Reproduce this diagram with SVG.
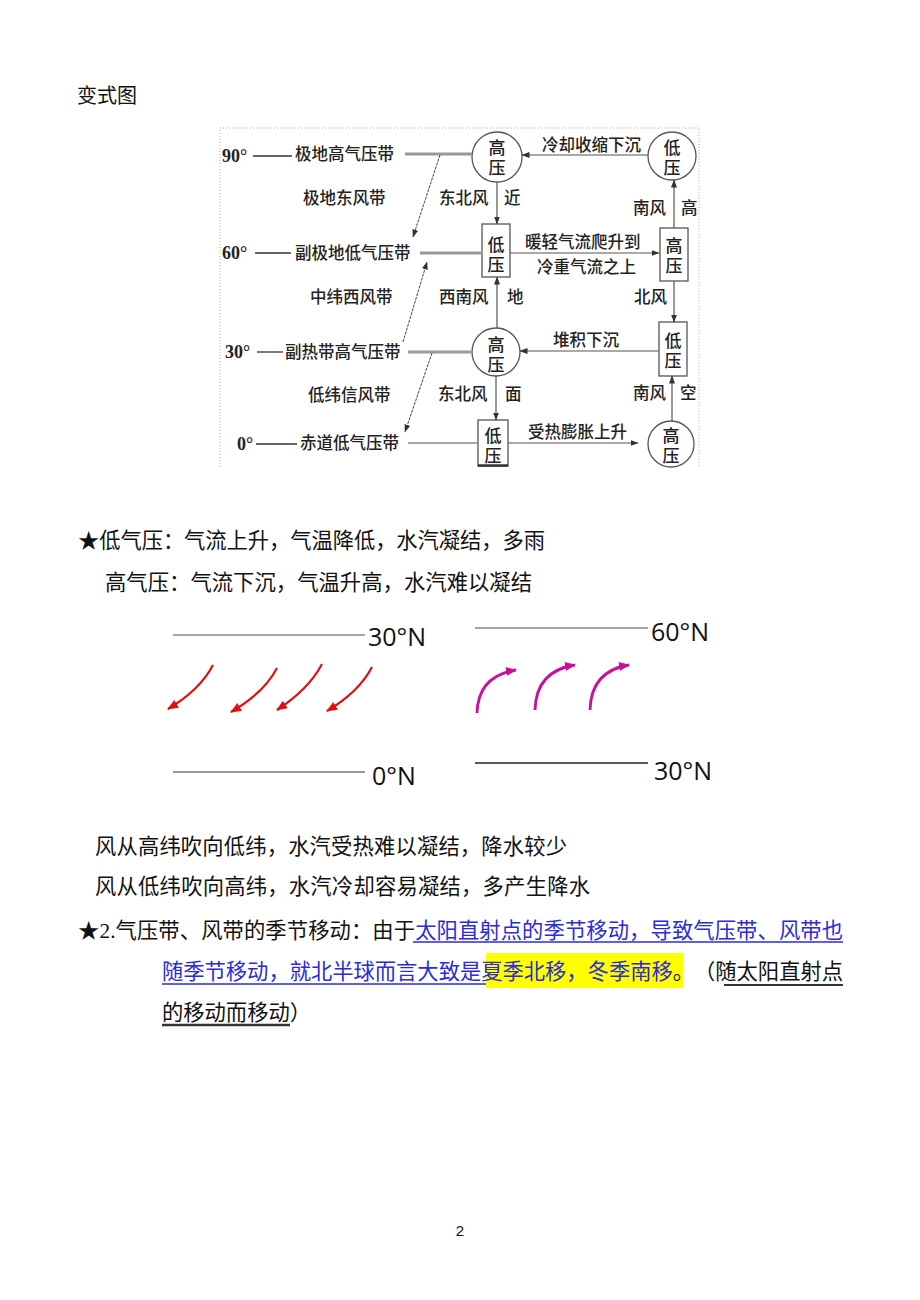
<svg xmlns="http://www.w3.org/2000/svg" width="920" height="1300" viewBox="0 0 920 1300">
<defs>
<marker id="ah" markerWidth="8" markerHeight="8" refX="7.5" refY="4" orient="auto" markerUnits="userSpaceOnUse"><path d="M0,1 L8,4 L0,7 Z" fill="#333"/></marker>
<marker id="ahr" markerWidth="12" markerHeight="12" refX="10" refY="6" orient="auto" markerUnits="userSpaceOnUse"><path d="M0,1.5 L11,6 L0,10.5 Z" fill="#e01010"/></marker>
<marker id="ahm" markerWidth="12" markerHeight="12" refX="10" refY="6" orient="auto" markerUnits="userSpaceOnUse"><path d="M0,1.5 L11,6 L0,10.5 Z" fill="#c8109a"/></marker>
</defs>
<style>
text{text-spacing-trim:space-all}
.cjk{font-family:"Noto Sans CJK SC","Noto Sans CJK TC",sans-serif}
.body{font-size:21.3px;fill:#111}
.d{font-size:16.5px;fill:#222;font-weight:500}
.nd{font-size:17px;fill:#222;font-weight:500;text-anchor:middle;writing-mode:vertical-rl;letter-spacing:3px}
.deg{font-family:"Liberation Serif",serif;font-weight:bold;font-size:18px;fill:#222}
.node{fill:#fff;stroke:#555;stroke-width:1.3}
.conn{stroke:#555;stroke-width:1.2;fill:none}
.diag{stroke:#444;stroke-width:1;fill:none;stroke-dasharray:3,1}
.belt{stroke:#999;stroke-width:3}
.dash{stroke:#333;stroke-width:1.3}
.frame{stroke:#aaa;stroke-width:1;stroke-dasharray:1,2;fill:none}
.lat{font-family:"Open Sans","Liberation Sans",sans-serif;font-size:25px;fill:#111}
.red{stroke:#e01010;stroke-width:2.2;fill:none}
.mag{stroke:#c8109a;stroke-width:2.8;fill:none}
</style>
<rect width="920" height="1300" fill="#fff"/>

<text class="cjk" x="77" y="103" font-size="20" fill="#111">变式图</text>

<!-- frame -->
<path class="frame" d="M220,467 L220,128 L699,128 L699,467"/>

<!-- latitude labels -->
<g id="lat90">
<text class="deg" x="222" y="162">90°</text>
<line class="dash" x1="253" y1="156" x2="292" y2="156"/>
<text class="cjk d" x="295" y="160">极地高气压带</text>
</g>
<text class="cjk d" x="303" y="204">极地东风带</text>
<g id="lat60">
<text class="deg" x="222" y="259">60°</text>
<line class="dash" x1="255" y1="253" x2="291" y2="253"/>
<text class="cjk d" x="295" y="259">副极地低气压带</text>
</g>
<text class="cjk d" x="310" y="303">中纬西风带</text>
<g id="lat30">
<text class="deg" x="225" y="358">30°</text>
<line class="dash" x1="257" y1="352" x2="283" y2="352"/>
<text class="cjk d" x="285" y="358">副热带高气压带</text>
</g>
<text class="cjk d" x="308" y="401">低纬信风带</text>
<g id="lat0">
<text class="deg" x="237" y="450">0°</text>
<line class="dash" x1="256" y1="444" x2="297" y2="444"/>
<text class="cjk d" x="300" y="449">赤道低气压带</text>
</g>

<!-- nodes -->
<g id="n-top-high"><circle class="node" cx="497" cy="157" r="25"/><text class="cjk nd" x="497" y="159">高压</text></g>
<g id="n-top-low"><circle class="node" cx="672" cy="156" r="24"/><text class="cjk nd" x="672" y="159">低压</text></g>
<g id="n-mid-low"><rect class="node" x="482" y="224" width="28" height="53"/><text class="cjk nd" x="496" y="256">低压</text></g>
<g id="n-mid-high"><rect class="node" x="660" y="228" width="28" height="53"/><text class="cjk nd" x="674" y="257">高压</text></g>
<g id="n-c30"><circle class="node" cx="496" cy="352" r="24"/><text class="cjk nd" x="496" y="356">高压</text></g>
<g id="n-r30"><rect class="node" x="659" y="322" width="28" height="54"/><text class="cjk nd" x="673" y="352">低压</text></g>
<g id="n-eq-low"><rect class="node" x="478" y="420" width="30" height="46"/><line x1="478" y1="465.5" x2="508" y2="465.5" stroke="#333" stroke-width="2.5"/><text class="cjk nd" x="493" y="447">低压</text></g>
<g id="n-eq-high"><circle class="node" cx="671" cy="444" r="23"/><text class="cjk nd" x="671" y="447">高压</text></g>

<!-- connectors -->
<g id="connectors">
<line class="belt" x1="405" y1="154" x2="472" y2="154"/>
<line class="belt" x1="420" y1="253" x2="482" y2="253"/>
<line class="belt" x1="408" y1="352" x2="472" y2="352"/>
<line x1="408" y1="443" x2="478" y2="443" stroke="#888" stroke-width="1.5"/>
<line class="diag" x1="440" y1="155" x2="413" y2="237" marker-end="url(#ah)"/>
<line class="diag" x1="403" y1="342" x2="427" y2="262" marker-end="url(#ah)"/>
<line class="diag" x1="432" y1="353" x2="405" y2="432" marker-end="url(#ah)"/>
<line class="conn" x1="648" y1="155" x2="522" y2="155" marker-end="url(#ah)"/>
<line class="conn" x1="510" y1="253" x2="659" y2="253" marker-end="url(#ah)"/>
<line class="conn" x1="659" y1="351" x2="520" y2="351" marker-end="url(#ah)"/>
<line class="conn" x1="508" y1="443" x2="638" y2="443" marker-end="url(#ah)"/>
<line class="conn" x1="497" y1="182" x2="497" y2="224" marker-end="url(#ah)"/>
<line class="conn" x1="497" y1="328" x2="497" y2="277" marker-end="url(#ah)"/>
<line class="conn" x1="496" y1="376" x2="496" y2="420" marker-end="url(#ah)"/>
<line class="conn" x1="674" y1="228" x2="674" y2="180" marker-end="url(#ah)"/>
<line class="conn" x1="674" y1="281" x2="674" y2="322" marker-end="url(#ah)"/>
<line class="conn" x1="672" y1="421" x2="672" y2="376" marker-end="url(#ah)"/>
</g>

<!-- connector labels -->
<g id="labels">
<text class="cjk d" x="542" y="151">冷却收缩下沉</text>
<text class="cjk d" x="525" y="248">暖轻气流爬升到</text>
<text class="cjk d" x="537" y="273">冷重气流之上</text>
<text class="cjk d" x="553" y="346">堆积下沉</text>
<text class="cjk d" x="528" y="438">受热膨胀上升</text>
<text class="cjk d" x="439" y="204">东北风</text>
<text class="cjk d" x="504" y="204">近</text>
<text class="cjk d" x="439" y="303">西南风</text>
<text class="cjk d" x="507" y="303">地</text>
<text class="cjk d" x="438" y="400">东北风</text>
<text class="cjk d" x="505" y="400">面</text>
<text class="cjk d" x="633" y="214">南风</text>
<text class="cjk d" x="681" y="214">高</text>
<text class="cjk d" x="634" y="303">北风</text>
<text class="cjk d" x="633" y="399">南风</text>
<text class="cjk d" x="680" y="399">空</text>
</g>

<!-- notes -->
<text class="cjk body" x="78" y="548" textLength="467" lengthAdjust="spacing">★低气压：气流上升，气温降低，水汽凝结，多雨</text>
<text class="cjk body" x="105" y="590" textLength="427" lengthAdjust="spacing">高气压：气流下沉，气温升高，水汽难以凝结</text>

<!-- left wind figure -->
<g id="fig-left">
<line x1="173" y1="635" x2="365" y2="635" stroke="#888" stroke-width="1.3"/>
<text class="lat" x="368" y="646">30°N</text>
<line x1="173" y1="772" x2="365" y2="772" stroke="#999" stroke-width="2"/>
<text class="lat" x="372" y="785">0°N</text>
<path class="red" d="M213,665 Q200,690 168,709" marker-end="url(#ahr)"/>
<path class="red" d="M277,668 Q264,693 231,712" marker-end="url(#ahr)"/>
<path class="red" d="M322,664 Q309,689 277,710" marker-end="url(#ahr)"/>
<path class="red" d="M372,667 Q359,692 327,711" marker-end="url(#ahr)"/>
</g>

<!-- right wind figure -->
<g id="fig-right">
<line x1="475" y1="628" x2="648" y2="628" stroke="#888" stroke-width="1.3"/>
<text class="lat" x="651" y="641">60°N</text>
<line x1="475" y1="763" x2="648" y2="763" stroke="#222" stroke-width="1.3"/>
<text class="lat" x="654" y="780">30°N</text>
<path class="mag" d="M477,713 Q478,676 516,670" marker-end="url(#ahm)"/>
<path class="mag" d="M535,710 Q536,671 575,665" marker-end="url(#ahm)"/>
<path class="mag" d="M590,710 Q591,671 629,665" marker-end="url(#ahm)"/>
</g>

<text class="cjk body" x="95" y="854" textLength="472" lengthAdjust="spacing">风从高纬吹向低纬，水汽受热难以凝结，降水较少</text>
<text class="cjk body" x="95" y="894" textLength="495" lengthAdjust="spacing">风从低纬吹向高纬，水汽冷却容易凝结，多产生降水</text>

<!-- item 2 -->
<rect x="486" y="953" width="197" height="35" fill="#ffff00"/>
<text class="cjk body" x="78" y="938" textLength="765" lengthAdjust="spacing">★<tspan font-family="Liberation Serif">2.</tspan>气压带、风带的季节移动：由于<tspan fill="#2b2bd9">太阳直射点的季节移动，导致气压带、风带也</tspan></text>
<line x1="413" y1="942" x2="843" y2="942" stroke="#2b2bd9" stroke-width="1.5"/>
<text class="cjk body" x="162" y="979" textLength="681" lengthAdjust="spacing"><tspan fill="#2b2bd9">随季节移动，就北半球而言大致是夏季北移，冬季南移</tspan>。（随太阳直射点</text>
<line x1="162" y1="984" x2="486" y2="984" stroke="#2b2bd9" stroke-width="1.5"/>
<line x1="724" y1="985" x2="843" y2="985" stroke="#333" stroke-width="2"/>
<text class="cjk body" x="162" y="1020" textLength="149" lengthAdjust="spacing">的移动而移动）</text>
<line x1="162" y1="1025" x2="290" y2="1025" stroke="#333" stroke-width="2.5"/>

<text x="460" y="1236" font-family="Liberation Sans,sans-serif" font-size="15" text-anchor="middle" fill="#111">2</text>
</svg>
